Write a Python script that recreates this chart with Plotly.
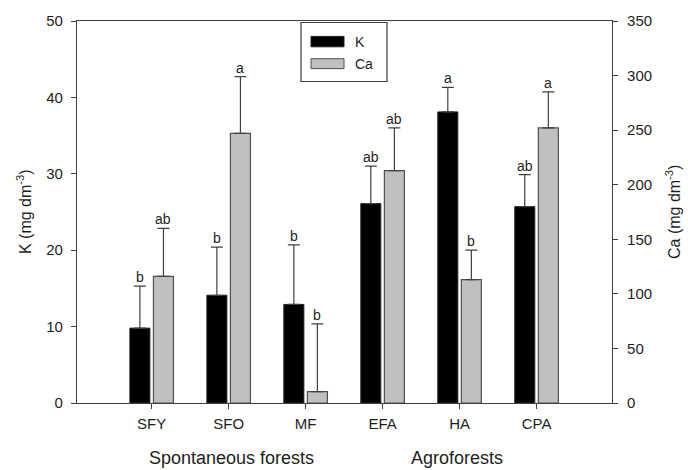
import plotly.graph_objects as go

# Sites and measured means (K on left axis, Ca on right axis)
sites = ["SFY", "SFO", "MF", "EFA", "HA", "CPA"]
k_mean = [9.8, 14.1, 12.9, 26.1, 38.1, 25.7]
k_sd = [5.5, 6.3, 7.8, 4.9, 3.2, 4.2]
ca_mean = [116, 247, 10.5, 213, 113, 252]
ca_sd = [44, 52, 62, 39, 27, 33]
k_letters = ["b", "b", "b", "ab", "a", "ab"]
ca_letters = ["ab", "a", "b", "ab", "b", "a"]
group_labels = ["Spontaneous forests", "Agroforests"]
group_pos = [1.04, 3.97]

FONT = "Liberation Sans, Arial, sans-serif"
TXT = "#1e1e1e"
LINE = "#404040"

BAR_W = 0.26
K_OFF = -0.283
CA_OFF = 0.023

# plot-area geometry in pixels (used for annotation shifts)
L, R, T, B = 77, 612, 18, 403
X_RANGE = [-0.97, 5.98]
px_per_cat = (R - L) / (X_RANGE[1] - X_RANGE[0])

fig = go.Figure()

fig.add_trace(go.Bar(
    x=sites, y=k_mean, name="K", yaxis="y",
    width=[BAR_W] * len(sites), offset=[K_OFF] * len(sites),
    marker=dict(color="#000000", line=dict(color="#202020", width=1)),
    error_y=dict(type="data", array=k_sd, arrayminus=[0] * len(sites),
                 symmetric=False, color=LINE, thickness=1.2, width=6),
    showlegend=False,
))
fig.add_trace(go.Bar(
    x=sites, y=ca_mean, name="Ca", yaxis="y2",
    width=[BAR_W] * len(sites), offset=[CA_OFF] * len(sites),
    marker=dict(color="#c0c0c0", line=dict(color="#505050", width=1.2)),
    error_y=dict(type="data", array=ca_sd, arrayminus=[0] * len(sites),
                 symmetric=False, color=LINE, thickness=1.2, width=6),
    showlegend=False,
))

annotations = []
k_shift = (K_OFF + BAR_W / 2) * px_per_cat
ca_shift = (CA_OFF + BAR_W / 2) * px_per_cat
for s, m, e, lab in zip(sites, k_mean, k_sd, k_letters):
    annotations.append(dict(x=s, y=m + e, xref="x", yref="y", text=lab,
                            showarrow=False, xshift=k_shift, yanchor="bottom",
                            yshift=-1, font=dict(family=FONT, size=14, color=TXT)))
for s, m, e, lab in zip(sites, ca_mean, ca_sd, ca_letters):
    annotations.append(dict(x=s, y=m + e, xref="x", yref="y2", text=lab,
                            showarrow=False, xshift=ca_shift, yanchor="bottom",
                            yshift=-1, font=dict(family=FONT, size=14, color=TXT)))

# group captions under the category labels
for g, gx in zip(group_labels, group_pos):
    annotations.append(dict(x=gx, y=0, xref="x", yref="paper", text=g,
                            showarrow=False, yanchor="middle", yshift=-(458 - B),
                            font=dict(family=FONT, size=18, color=TXT)))

# axis titles
annotations.append(dict(x=0, y=0.5, xref="paper", yref="paper",
                        text="K (mg dm<sup>-3</sup>)", textangle=-90,
                        showarrow=False, xanchor="center", yanchor="middle",
                        xshift=24 - L, font=dict(family=FONT, size=16, color=TXT)))
annotations.append(dict(x=1, y=0.5, xref="paper", yref="paper",
                        text="Ca (mg dm<sup>-3</sup>)", textangle=-90,
                        showarrow=False, xanchor="center", yanchor="middle",
                        xshift=673 - R, font=dict(family=FONT, size=16, color=TXT)))


def px(xp, yp):
    return (xp - L) / (R - L), (B - yp) / (B - T)


# boxed key in the upper middle
shapes = []
x0, y0 = px(301, 19.5)
x1, y1 = px(387, 79)
shapes.append(dict(type="rect", xref="paper", yref="paper", x0=x0, y0=y1, x1=x1, y1=y0,
                   line=dict(color=LINE, width=1.2), fillcolor="white"))
for (top, bot, col, lc), name, ty in zip(
        [(33.5, 44, "#000000", "#202020"), (56, 66, "#c0c0c0", "#505050")],
        ["K", "Ca"], [39, 61]):
    a0, b0 = px(311, top)
    a1, b1 = px(344, bot)
    shapes.append(dict(type="rect", xref="paper", yref="paper", x0=a0, y0=b1, x1=a1, y1=b0,
                       line=dict(color=lc, width=1), fillcolor=col))
    tx, tyy = px(353, ty)
    annotations.append(dict(x=tx, y=tyy, xref="paper", yref="paper", text=name,
                            showarrow=False, xanchor="left", yanchor="middle",
                            font=dict(family=FONT, size=14, color=TXT)))

axis_common = dict(showline=True, linecolor=LINE, linewidth=1.2, ticks="outside",
                   ticklen=5, tickcolor=LINE, tickwidth=1.2, showgrid=False,
                   zeroline=False, tickfont=dict(family=FONT, size=15, color=TXT))

fig.update_layout(
    width=688, height=470,
    margin=dict(l=L, r=688 - R, t=T, b=470 - B, pad=0),
    paper_bgcolor="white", plot_bgcolor="white",
    barmode="overlay",
    font=dict(family=FONT, color=TXT),
    xaxis=dict(**axis_common, type="category", range=X_RANGE, mirror=True,
               ticklabelstandoff=2),
    yaxis=dict(**axis_common, range=[0, 50], dtick=10, ticklabelstandoff=5),
    yaxis2=dict(**axis_common, range=[0, 350], dtick=50, overlaying="y",
                side="right", ticklabelstandoff=6),
    annotations=annotations,
    shapes=shapes,
)

fig.write_html("out.html")
